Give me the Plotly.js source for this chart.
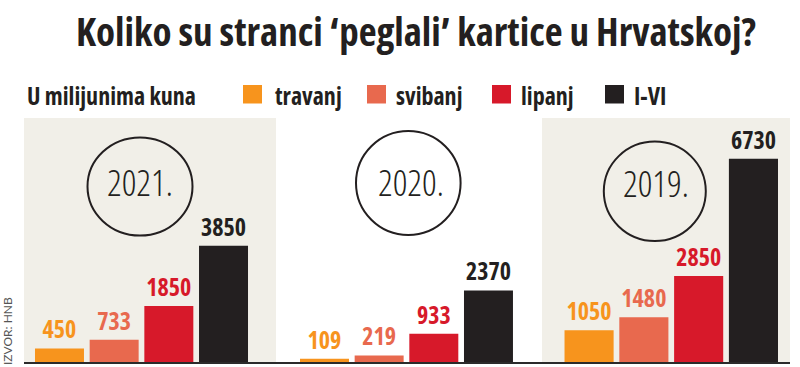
<!DOCTYPE html>
<html>
<head>
<meta charset="utf-8">
<script src="https://cdn.plot.ly/plotly-3.0.1.min.js"></script>
<style>html,body{margin:0;padding:0;background:#fff;}#chart{width:800px;height:367px;}text{font-stretch:75%;}</style>
</head>
<body>
<div id="chart"></div>
<script>
// ---- data ----
const months = ['travanj', 'svibanj', 'lipanj', 'I-VI'];
const years = ['2021.', '2020.', '2019.'];
const values2021 = [450, 733, 1850, 3850];
const values2020 = [109, 219, 933, 2370];
const values2019 = [1050, 1480, 2850, 6730];
const unitLabel = 'U milijunima kuna';
const titleText = 'Koliko su stranci ‘peglali’ kartice u Hrvatskoj?';
const sourceText = 'IZVOR: HNB';

// ---- style ----
const monthColors = ['#f7941d', '#e8694e', '#d7192a', '#231f20'];
const ink = '#231f20';
const beige = '#f1efe8';
const narrow = '"Open Sans", "DejaVu Sans Condensed", sans-serif';

const W = 800, H = 367, MT = 118, MB = 5;
const PH = H - MT - MB;
const px = v => v / W;
const py = v => (H - MB - v) / PH;

const panelValues = [values2021, values2020, values2019];
const axisIds = ['x', 'x2', 'x3'];
const axisKeys = ['xaxis', 'xaxis2', 'xaxis3'];
const domains = [[24, 276], [276, 542], [542, 790]];
const ranges = [[-0.649, 3.960], [-0.887, 3.979], [-0.859, 3.667]];
const circles = [
  {cx: 140, cy: 186.5, rx: 52.5, ry: 49, tx: 139.5, ty: 182},
  {cx: 408.3, cy: 183, rx: 52.3, ry: 52, tx: 411, ty: 182},
  {cx: 654.8, cy: 191.3, rx: 51, ry: 49.7, tx: 656, ty: 183}
];

const traces = [];
panelValues.forEach((vals, p) => {
  months.forEach((m, i) => {
    traces.push({
      type: 'bar',
      x: [m],
      y: [vals[i]],
      name: m,
      legendgroup: m,
      showlegend: false,
      xaxis: axisIds[p],
      yaxis: 'y',
      marker: {color: monthColors[i], line: {width: 0}},
      text: [String(vals[i])],
      textposition: 'outside',
      textfont: {family: narrow, size: 24, color: monthColors[i], weight: 'bold'},
      cliponaxis: false,
      hoverinfo: 'skip'
    });
  });
});

const shapes = [];
const annotations = [];

// panel backgrounds
[0, 2].forEach(p => {
  shapes.push({type: 'rect', xref: 'paper', yref: 'paper',
    x0: px(domains[p][0]), x1: px(domains[p][1]), y0: py(363), y1: py(118),
    fillcolor: beige, line: {width: 0}, layer: 'below'});
});
// baseline
shapes.push({type: 'line', xref: 'paper', yref: 'paper', x0: px(24), x1: px(790), y0: py(363), y1: py(363),
  line: {color: '#2b2b2b', width: 2}});

// year circles
circles.forEach((c, p) => {
  shapes.push({type: 'circle', xref: 'paper', yref: 'paper',
    x0: px(c.cx - c.rx), x1: px(c.cx + c.rx), y0: py(c.cy + c.ry), y1: py(c.cy - c.ry),
    line: {color: ink, width: 2}, fillcolor: 'rgba(0,0,0,0)'});
  annotations.push({xref: 'paper', yref: 'paper', x: px(c.tx), y: py(c.ty), xanchor: 'center', yanchor: 'middle',
    text: years[p], showarrow: false, font: {family: narrow, size: 36, color: ink, weight: 300}});
});

// custom legend
const legendBoxes = [243, 367, 492, 605];
const legendTexts = [273, 394, 519, 632];
annotations.push({xref: 'paper', yref: 'paper', x: px(25), y: py(95), xanchor: 'left', yanchor: 'middle',
  text: unitLabel, showarrow: false, font: {family: narrow, size: 24, color: ink, weight: 'bold'}});
months.forEach((m, i) => {
  shapes.push({type: 'rect', xref: 'paper', yref: 'paper',
    x0: px(legendBoxes[i]), x1: px(legendBoxes[i] + 19), y0: py(103.5), y1: py(85),
    fillcolor: monthColors[i], line: {width: 0}});
  annotations.push({xref: 'paper', yref: 'paper', x: px(legendTexts[i]), y: py(95), xanchor: 'left', yanchor: 'middle',
    text: m, showarrow: false, font: {family: narrow, size: 24, color: ink, weight: 'bold'}});
});

// source
annotations.push({xref: 'paper', yref: 'paper', x: px(7), y: py(331), xanchor: 'center', yanchor: 'middle',
  text: sourceText, textangle: -90, showarrow: false, font: {family: 'Lato, sans-serif', size: 12, color: '#555'}});

const layout = {
  width: W, height: H,
  margin: {l: 0, r: 0, t: MT, b: MB, pad: 0},
  paper_bgcolor: '#ffffff', plot_bgcolor: 'rgba(0,0,0,0)',
  showlegend: false,
  barmode: 'overlay',
  bargap: 0.104,
  title: {text: titleText, x: px(416), xanchor: 'center', y: 1 - 32 / H, yanchor: 'middle', yref: 'container',
    font: {family: narrow, size: 39, color: ink, weight: 'bold'}},
  yaxis: {range: [0, PH * 33.1], visible: false, fixedrange: true},
  shapes: shapes,
  annotations: annotations
};
axisKeys.forEach((k, p) => {
  layout[k] = {domain: [px(domains[p][0]), px(domains[p][1])], range: ranges[p], type: 'category',
    categoryorder: 'array', categoryarray: months, visible: false, fixedrange: true, anchor: 'y'};
});

Plotly.newPlot('chart', traces, layout, {displayModeBar: false, staticPlot: true});
</script>
</body>
</html>
